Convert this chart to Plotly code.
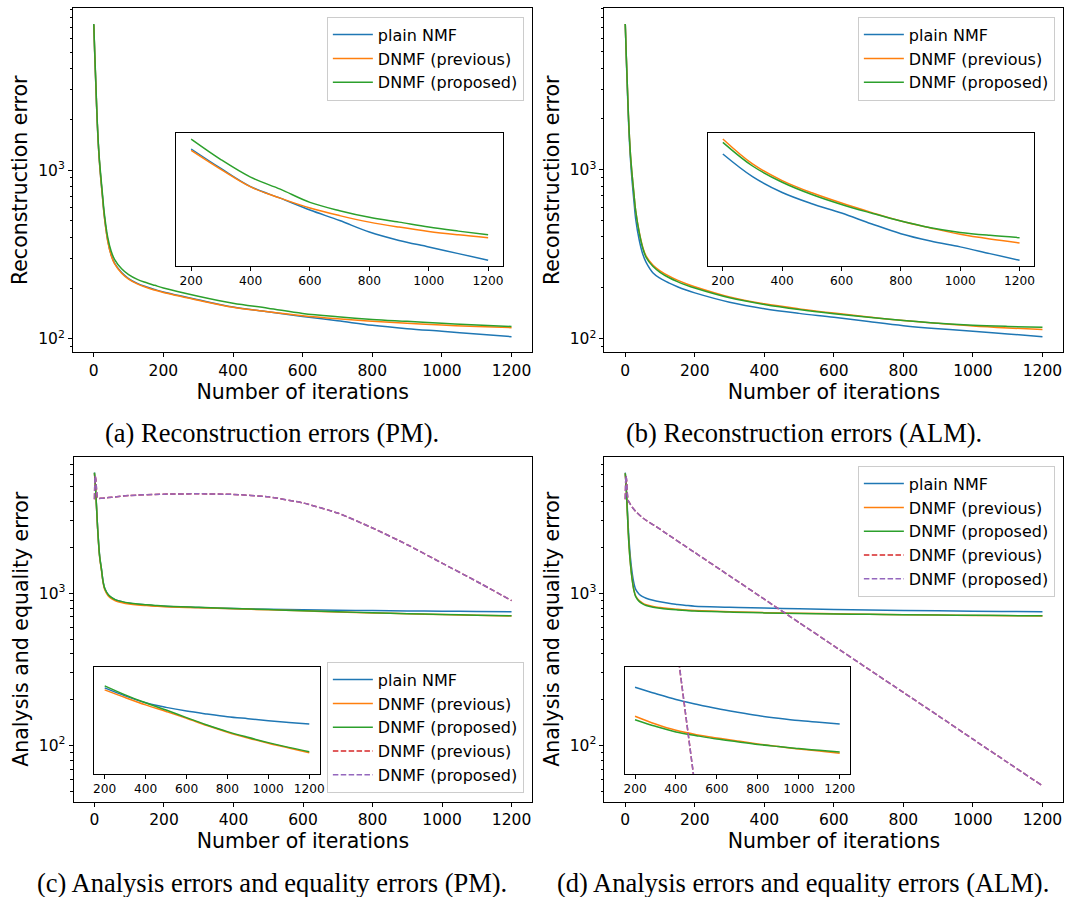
import numpy as np
import plotly.graph_objects as go

W, H = 1072, 897

# ---------------------------------------------------------------------------
# Data: error per iteration
# ---------------------------------------------------------------------------
iters = [0, 3, 6, 10, 15, 20, 25, 30, 40, 50, 60, 80, 100, 125, 150, 175, 200,
         300, 400, 500, 600, 700, 800, 900, 1000, 1100, 1200]

# (a) reconstruction errors, PM
rec_pm_plain = [7300, 4700, 3150, 1900, 1220, 900, 695, 540, 383, 314, 280, 247, 227.5,
                213, 203.5, 196, 189.4, 170.3, 154.2, 144.7, 135.6, 128.0, 120.2, 114.8,
                110.8, 106.8, 103.0]
rec_pm_prev = [7300, 4700, 3150, 1900, 1210, 895, 690, 535, 380, 312, 278, 245, 226,
               211.5, 202, 194.5, 188.0, 169.4, 153.9, 144.7, 137.1, 131.5, 126.9, 123.5,
               120.6, 118.4, 116.5]
rec_pm_prop = [7350, 4800, 3250, 1950, 1250, 930, 720, 560, 400, 330, 295, 260, 240,
               225, 215.5, 207.5, 200.0, 178.8, 162.4, 152.0, 141.4, 135.1, 130.3, 126.9,
               123.5, 120.8, 118.4]

# (b) reconstruction errors, ALM
rec_alm_plain = [7300, 4600, 3000, 1800, 1150, 840, 650, 510, 385, 318, 283, 245, 228,
                 214, 203, 194, 186.6, 164.3, 150.3, 141.1, 133.9, 126.1, 119.2, 114.4,
                 110.7, 106.6, 102.7]
rec_alm_prev = [7300, 4700, 3150, 1900, 1230, 920, 720, 570, 430, 350, 308, 272, 252,
                235, 222, 211.5, 202.9, 176.4, 160.7, 150.0, 141.6, 134.4, 128.0, 123.1,
                118.8, 115.7, 113.2]
rec_alm_prop = [7300, 4700, 3150, 1900, 1230, 920, 720, 570, 425, 345, 303, 267, 247,
                230, 217.5, 207.5, 199.2, 174.4, 159.2, 148.6, 140.5, 133.9, 128.0, 123.3,
                120.1, 118.1, 116.6]

# (c) analysis errors, PM
ana_pm_plain = [6200, 5000, 3700, 2500, 1750, 1450, 1190, 1070, 975, 932, 905, 878, 860,
                846, 836, 828, 820.7, 806.0, 793.7, 785.5, 779.0, 773.9, 769.3, 765.8,
                762.4, 759.5, 756.8]
ana_pm_prev = [6150, 4950, 3650, 2450, 1720, 1420, 1170, 1050, 960, 918, 892, 866, 850,
               838, 830, 823, 817.0, 803.0, 789.9, 778.3, 766.5, 754.1, 743.0, 733.5,
               724.8, 717.1, 709.6]
ana_pm_prop = [6200, 5000, 3700, 2500, 1750, 1450, 1190, 1070, 977, 935, 908, 881, 864,
               850, 841, 832, 824.4, 807.9, 793.7, 780.9, 767.6, 755.1, 743.9, 734.5,
               725.8, 718.1, 711.2]

# (d) analysis errors, ALM
ana_alm_plain = [6200, 4900, 3600, 2400, 1700, 1350, 1160, 1060, 985, 950, 928, 900, 880,
                 860, 845, 832, 821.8, 810.2, 799.5, 791.1, 783.4, 777.0, 771.2, 766.6,
                 762.6, 759.7, 756.8]
ana_alm_prev = [6150, 4800, 3400, 2200, 1550, 1230, 1050, 960, 895, 862, 840, 818, 805,
                793, 784, 776, 770.1, 756.8, 746.1, 738.9, 733.5, 728.5, 723.7, 719.4,
                715.6, 712.3, 708.6]
ana_alm_prop = [6150, 4800, 3400, 2200, 1540, 1220, 1040, 950, 885, 853, 832, 810, 796,
                785, 777, 770, 764.1, 752.8, 743.3, 737.2, 731.6, 727.3, 722.9, 719.4,
                716.1, 713.4, 710.6]

# equality-constraint errors (dashed)
eq_iters = [0, 2, 4, 6, 8, 10, 20, 30, 50, 100, 200, 300, 400, 500, 600, 700, 800,
            900, 1000, 1100, 1200]
eq_pm_prev = [4150, 5900, 5600, 4800, 4300, 4200, 4210, 4230, 4275, 4385, 4480, 4500,
              4460, 4300, 3920, 3365, 2685, 2084, 1578, 1195, 895]
eq_pm_prop = [4150, 5900, 5600, 4800, 4300, 4200, 4210, 4230, 4275, 4385, 4480, 4500,
              4460, 4300, 3920, 3365, 2685, 2084, 1578, 1195, 895]
eq_alm_prev = [4150, 5900, 5500, 4500, 4100, 4000, 3680, 3450, 3130, 2635, 1851, 1301,
               914, 642, 451, 317, 223, 157, 110, 77.3, 54.3]
eq_alm_prop = [4150, 5900, 5500, 4500, 4100, 4000, 3680, 3450, 3130, 2635, 1851, 1301,
               914, 642, 451, 317, 223, 157, 110, 77.3, 54.3]

names = ["plain NMF", "DNMF (previous)", "DNMF (proposed)",
         "DNMF (previous)", "DNMF (proposed)"]
colors = ["#1f77b4", "#ff7f0e", "#2ca02c", "#d62728", "#9467bd"]

x_title = "Number of iterations"
captions = ["(a) Reconstruction errors (PM).",
            "(b) Reconstruction errors (ALM).",
            "(c) Analysis errors and equality errors (PM).",
            "(d) Analysis errors and equality errors (ALM)."]
y_titles = ["Reconstruction error", "Reconstruction error",
            "Analysis and equality error", "Analysis and equality error"]

# ---------------------------------------------------------------------------
# Layout geometry (pixel boxes: left, top, right, bottom)
# ---------------------------------------------------------------------------
main_boxes = [(72.3, 8.3, 534.4, 352.3), (606.8, 8.3, 1068.3, 352.3),
              (73.0, 457.0, 534.4, 801.5), (606.8, 457.0, 1068.3, 801.5)]
inset_boxes = [(176.3, 133.0, 504.8, 266.3), (711.0, 133.0, 1039.2, 266.3),
               (94.0, 667.0, 320.3, 774.3), (627.3, 667.0, 853.7, 774.3)]
caption_pos = [(273, 433), (808, 433), (273, 883), (807, 883)]
legend_pos = [(525.8, 16.7, "top"), (1059.8, 16.7, "top"),
              (525.8, 792.7, "bottom"), (1059.8, 465.7, "top")]

FONT = "DejaVu Sans"


def dom_x(x0, x1):
    return [x0 / W, x1 / W]


def dom_y(y0, y1):
    return [1 - y1 / H, 1 - y0 / H]


def log_range(series_list, pad=0.05):
    vals = np.concatenate([np.asarray(s, float) for s in series_list])
    lo, hi = np.log10(vals.min()), np.log10(vals.max())
    d = (hi - lo) * pad
    return [lo - d, hi + d]


def lin_range(lo, hi, pad=0.05):
    d = (hi - lo) * pad
    return [lo - d, hi + d]


def tail(xs, ys, start=200):
    xs = np.asarray(xs)
    ys = np.asarray(ys, float)
    m = xs >= start
    return xs[m], ys[m]


panels = [
    dict(solid=[rec_pm_plain, rec_pm_prev, rec_pm_prop], dashed=[]),
    dict(solid=[rec_alm_plain, rec_alm_prev, rec_alm_prop], dashed=[]),
    dict(solid=[ana_pm_plain, ana_pm_prev, ana_pm_prop], dashed=[eq_pm_prev, eq_pm_prop]),
    dict(solid=[ana_alm_plain, ana_alm_prev, ana_alm_prop], dashed=[eq_alm_prev, eq_alm_prop]),
]

fig = go.Figure()

x_main_range = lin_range(min(iters), max(iters))
x_inset_range = lin_range(200, 1200)

# y ranges: top row per panel, bottom row shared
y_ranges = [log_range(panels[0]["solid"]), log_range(panels[1]["solid"])]
shared = log_range(panels[2]["solid"] + panels[2]["dashed"] +
                   panels[3]["solid"] + panels[3]["dashed"])
y_ranges += [shared, shared]

inset_y_ranges = []
for p in panels[:2]:
    inset_y_ranges.append(log_range([tail(iters, s)[1] for s in p["solid"]]))
zoom_lo, zoom_hi = 676, 860
inset_y_ranges += [[np.log10(zoom_lo), np.log10(zoom_hi)]] * 2

line_w = 1.5
dash = "5.5px,2.4px"


def line_style(j, is_dash):
    line = dict(color=colors[j], width=line_w, shape="spline", smoothing=1.0)
    if is_dash:
        line["dash"] = dash
        line["smoothing"] = 0.5
    return line


for k, p in enumerate(panels):
    xa = "x" if k == 0 else f"x{k + 1}"
    ya = "y" if k == 0 else f"y{k + 1}"
    xi = f"x{k + 5}"
    yi = f"y{k + 5}"
    leg = "legend" if k == 0 else f"legend{k + 1}"
    series = [(iters, s, False) for s in p["solid"]] + \
             [(eq_iters, s, True) for s in p["dashed"]]
    for j, (xs, ys, is_dash) in enumerate(series):
        fig.add_trace(go.Scatter(x=xs, y=ys, mode="lines", name=names[j],
                                 line=line_style(j, is_dash),
                                 xaxis=xa, yaxis=ya, legend=leg, showlegend=True))
    # zoomed view of the later iterations
    for j, (xs, ys, is_dash) in enumerate(series):
        tx, ty = tail(xs, ys, 200)
        fig.add_trace(go.Scatter(x=tx, y=ty, mode="lines", name=names[j],
                                 line=line_style(j, is_dash),
                                 xaxis=xi, yaxis=yi, showlegend=False))

layout = dict(width=W, height=H, margin=dict(l=0, r=0, t=0, b=0),
              paper_bgcolor="white", plot_bgcolor="white",
              font=dict(family=FONT, color="black"), annotations=[])

minor_vals = sorted(m * 10 ** e for e in range(1, 4) for m in range(2, 10))

for k in range(4):
    l, t, r, b = main_boxes[k]
    xa = "xaxis" if k == 0 else f"xaxis{k + 1}"
    ya = "yaxis" if k == 0 else f"yaxis{k + 1}"
    xr = "y" if k == 0 else f"y{k + 1}"
    yr = "x" if k == 0 else f"x{k + 1}"
    layout[xa] = dict(domain=dom_x(l, r), anchor=xr, range=x_main_range,
                      tickmode="array", tickvals=list(range(0, 1201, 200)),
                      ticks="outside", ticklen=4, tickwidth=1, tickcolor="black",
                      showline=True, mirror=True, linecolor="black", linewidth=1,
                      showgrid=False, zeroline=False,
                      tickfont=dict(family=FONT, size=15.5, color="black"),
                      title=dict(text=x_title, standoff=2,
                                 font=dict(family=FONT, size=20.5, color="black")))
    layout[ya] = dict(domain=dom_y(t, b), anchor=yr, type="log", range=y_ranges[k],
                      tickmode="array", tickvals=[100, 1000],
                      ticktext=["10<sup>2</sup>", "10<sup>3</sup>"],
                      ticks="outside", ticklen=4, tickwidth=1, tickcolor="black",
                      minor=dict(tickmode="array", tickvals=minor_vals, ticks="outside",
                                 ticklen=2.2, tickwidth=0.7, tickcolor="black"),
                      showline=True, mirror=True, linecolor="black", linewidth=1,
                      showgrid=False, zeroline=False,
                      tickfont=dict(family=FONT, size=15.5, color="black"),
                      title=dict(text=y_titles[k], standoff=4,
                                 font=dict(family=FONT, size=20.5, color="black")))

    il, it_, ir, ib = inset_boxes[k]
    layout[f"xaxis{k + 5}"] = dict(domain=dom_x(il, ir), anchor=f"y{k + 5}",
                                   range=x_inset_range, tickmode="array",
                                   tickvals=list(range(200, 1201, 200)),
                                   ticks="outside", ticklen=3.5, tickwidth=1,
                                   tickcolor="black", showline=True, mirror=True,
                                   linecolor="black", linewidth=1, showgrid=False,
                                   zeroline=False,
                                   tickfont=dict(family=FONT, size=12.2, color="black"))
    layout[f"yaxis{k + 5}"] = dict(domain=dom_y(it_, ib), anchor=f"x{k + 5}",
                                   type="log", range=inset_y_ranges[k],
                                   showticklabels=False, ticks="", showline=True,
                                   mirror=True, linecolor="black", linewidth=1,
                                   showgrid=False, zeroline=False)

    lx, ly, anchor = legend_pos[k]
    lg = "legend" if k == 0 else f"legend{k + 1}"
    layout[lg] = dict(x=lx / W, y=1 - ly / H, xanchor="right", yanchor=anchor,
                      xref="paper", yref="paper",
                      bgcolor="rgba(255,255,255,0.85)", bordercolor="#cccccc",
                      borderwidth=1, font=dict(family=FONT, size=16, color="black"),
                      itemwidth=40)

    cx, cy = caption_pos[k]
    layout["annotations"].append(dict(text=captions[k], x=cx / W, y=1 - cy / H,
                                      xref="paper", yref="paper", showarrow=False,
                                      xanchor="center", yanchor="middle",
                                      font=dict(family="Liberation Serif", size=26.5,
                                                color="black")))

fig.update_layout(**layout)
fig.write_html("out.html")
